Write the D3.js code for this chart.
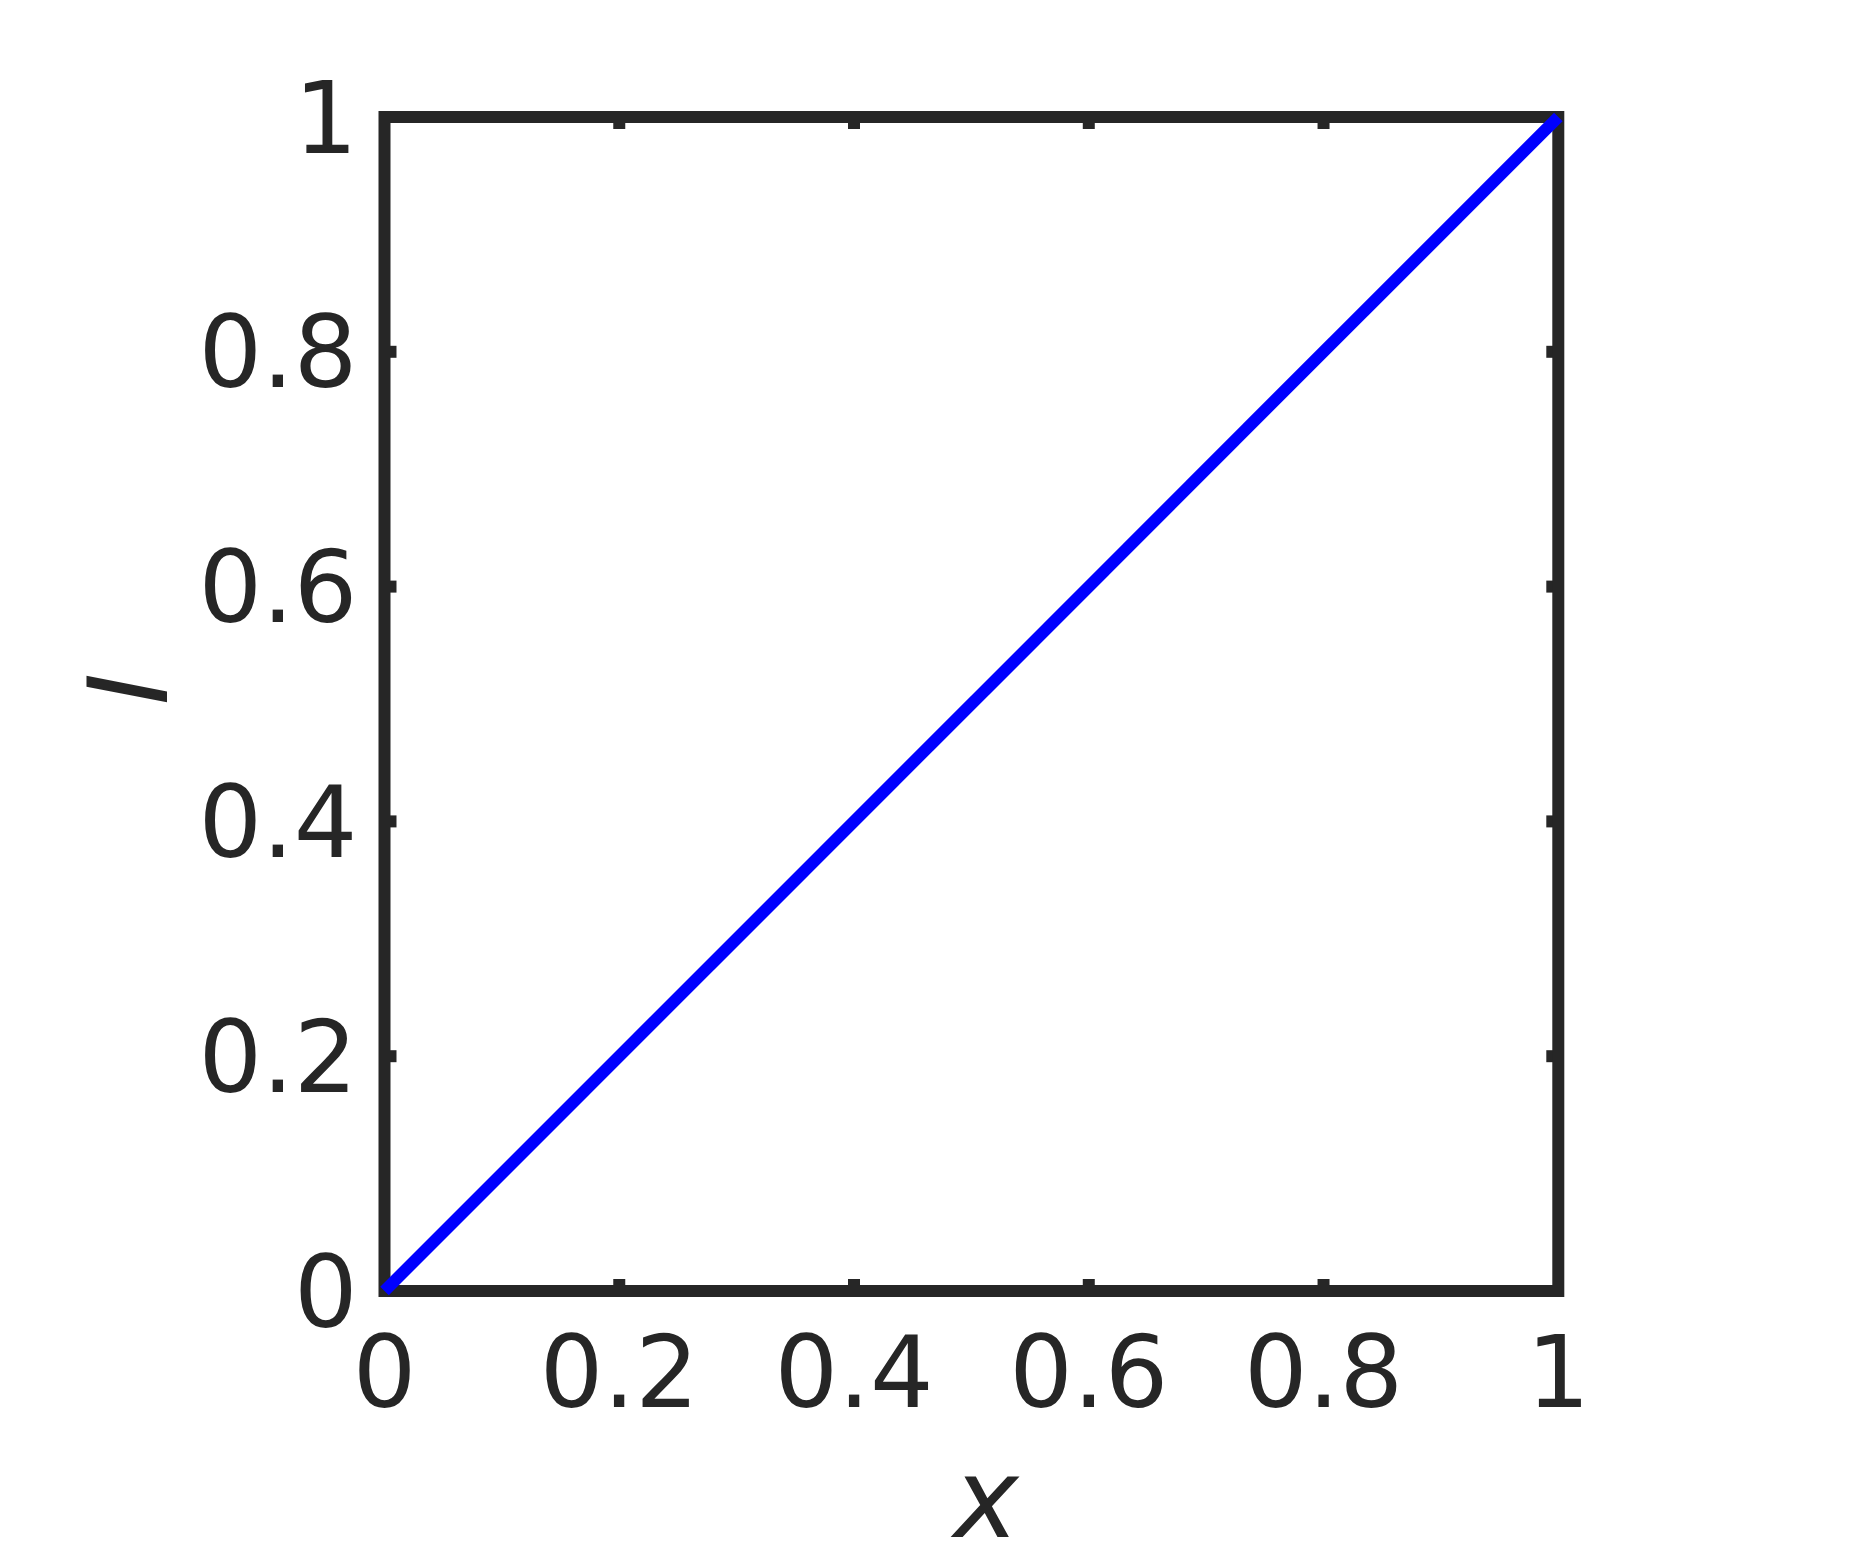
<!DOCTYPE html>
<html>
<head>
<meta charset="utf-8">
<script src="https://cdn.jsdelivr.net/npm/d3@7"></script>
<style>
  body { margin: 0; background: #fff; }
  text { font-family: "DejaVu Sans", sans-serif; fill: #262626; }
</style>
</head>
<body>
<div id="chart"></div>
<script>
// series: straight line from (0,0) to (1,1)
var xValues = [0, 1];
var yValues = [0, 1];
var tickValues = [0, 0.2, 0.4, 0.6, 0.8, 1];
var tickLabels = ["0", "0.2", "0.4", "0.6", "0.8", "1"];

var width = 1875, height = 1563;
var margin = { left: 384.5, right: 1875 - 1558.3, top: 117, bottom: 1563 - 1291 };
var innerW = width - margin.left - margin.right,
    innerH = height - margin.top - margin.bottom;
var ink = "#262626";

var svg = d3.select("#chart").append("svg")
    .attr("width", width)
    .attr("height", height);

svg.append("rect").attr("width", width).attr("height", height).attr("fill", "#fff");

var g = svg.append("g")
    .attr("transform", "translate(" + margin.left + "," + margin.top + ")");

var x = d3.scaleLinear().domain([0, 1]).range([0, innerW]);
var y = d3.scaleLinear().domain([0, 1]).range([innerH, 0]);

var fmt = function(d, i) { return tickLabels[i]; };

// bottom axis with inward ticks
var xAxis = g.append("g")
    .attr("transform", "translate(0," + innerH + ")")
    .call(d3.axisBottom(x).offset(0).tickValues(tickValues).tickFormat(fmt).tickSize(-12).tickPadding(45));
// left axis
var yAxis = g.append("g")
    .call(d3.axisLeft(y).offset(0).tickValues(tickValues).tickFormat(fmt).tickSize(-12).tickPadding(27));
// top and right ticks, no labels
var topAxis = g.append("g")
    .call(d3.axisTop(x).offset(0).tickValues(tickValues).tickFormat("").tickSize(-12));
var rightAxis = g.append("g")
    .attr("transform", "translate(" + innerW + ",0)")
    .call(d3.axisRight(y).offset(0).tickValues(tickValues).tickFormat("").tickSize(-12));

[xAxis, yAxis, topAxis, rightAxis].forEach(function(a) {
    a.select(".domain").remove();
    // end ticks sit under the box corners anyway
    a.selectAll(".tick").filter(function(d) { return d === 0 || d === 1; })
        .select("line").remove();
    a.selectAll("line").attr("stroke", ink).attr("stroke-width", 12);
    a.selectAll("text")
        .attr("font-family", "DejaVu Sans")
        .attr("font-size", 100)
        .attr("fill", ink);
});
yAxis.selectAll("text").attr("dy", "0.355em");

// axes box
g.append("rect")
    .attr("x", 0).attr("y", 0)
    .attr("width", innerW).attr("height", innerH)
    .attr("fill", "none")
    .attr("stroke", ink)
    .attr("stroke-width", 12);

// data line
var line = d3.line()
    .x(function(d, i) { return x(xValues[i]); })
    .y(function(d, i) { return y(yValues[i]); });

g.append("path")
    .datum(xValues)
    .attr("d", line)
    .attr("fill", "none")
    .attr("stroke", "#0000ff")
    .attr("stroke-width", 12);

// axis labels
svg.append("text")
    .attr("x", 986)
    .attr("y", 1537)
    .attr("text-anchor", "middle")
    .attr("font-size", 110)
    .attr("font-style", "italic")
    .text("x");

svg.append("text")
    .attr("transform", "translate(167,689) rotate(-90)")
    .attr("text-anchor", "middle")
    .attr("font-size", 110)
    .attr("font-style", "italic")
    .text("I");
</script>
</body>
</html>
